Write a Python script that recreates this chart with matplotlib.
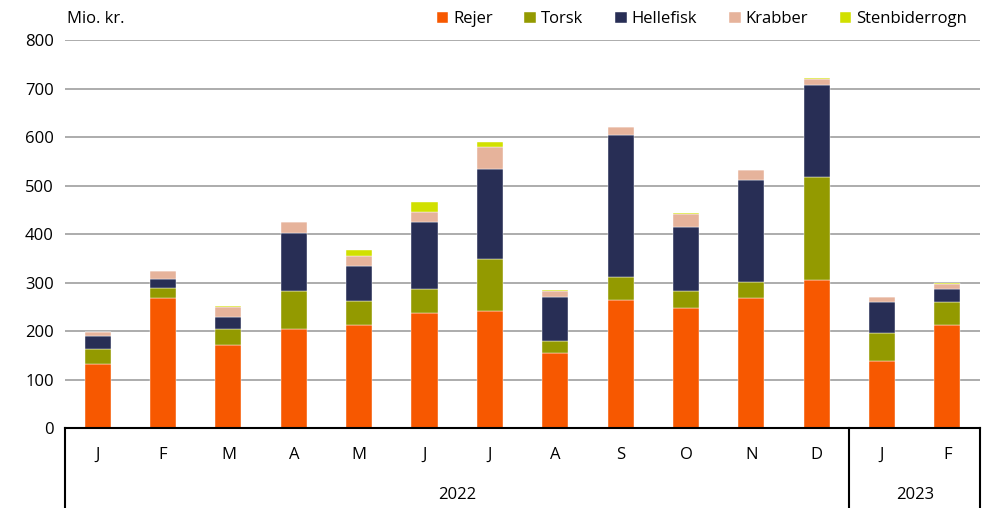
import numpy as np
import matplotlib.pyplot as plt
import matplotlib.transforms as mtransforms

plt.rcParams['font.family'] = ['Open Sans', 'DejaVu Sans']

# ---- Data (mio. kr.) ----
months = ['J', 'F', 'M', 'A', 'M', 'J', 'J', 'A', 'S', 'O', 'N', 'D', 'J', 'F']
years = ['2022', '2023']
rejer = [131, 269, 172, 205, 212, 238, 241, 155, 263, 248, 269, 306, 138, 212]
torsk = [32, 20, 32, 77, 50, 48, 108, 24, 48, 35, 33, 212, 58, 48]
hellefisk = [26, 19, 24, 121, 73, 138, 186, 91, 293, 132, 210, 190, 64, 26]
krabber = [10, 16, 21, 21, 19, 22, 44, 13, 16, 27, 20, 12, 11, 12]
stenbiderrogn = [0, 0, 2, 0, 13, 20, 10, 1, 0, 1, 0, 2, 0, 1]

series = [('Rejer', rejer, '#F75800'),
          ('Torsk', torsk, '#939A00'),
          ('Hellefisk', hellefisk, '#282E55'),
          ('Krabber', krabber, '#E6B39B'),
          ('Stenbiderrogn', stenbiderrogn, '#D1E000')]

# ---- Plotting ----
fig = plt.figure(figsize=(9.85, 5.08), dpi=100)
ax = fig.add_axes([0.066, 0.1575, 0.929, 0.7635])

x = np.arange(len(months))
bottom = np.zeros(len(months))
for name, vals, col in series:
    ax.bar(x, vals, 0.4, bottom=bottom, color=col, label=name, zorder=3,
           edgecolor='white', linewidth=0.3)
    bottom += np.array(vals)

ax.set_xlim(-0.5, len(months) - 0.5)
ax.set_ylim(0, 800)
ax.set_yticks(range(0, 801, 100))
ax.tick_params(axis='y', length=0, labelsize=12, pad=8)
ax.tick_params(axis='x', length=0, labelbottom=False)
ax.grid(axis='y', color='#A6A6A6', linewidth=1.3, zorder=0)
for s in ['left', 'right', 'top']:
    ax.spines[s].set_visible(False)
ax.spines['bottom'].set_linewidth(1.5)
ax.spines['bottom'].set_zorder(4)

# category axis box
trans = mtransforms.blended_transform_factory(ax.transData, ax.transAxes)
ybot = -0.22
for xv in [-0.5, 11.5, 13.5]:
    ax.plot([xv, xv], [0, ybot], color='black', lw=1.5, transform=trans, clip_on=False)
for i, m in enumerate(months):
    ax.text(i, -0.07, m, transform=trans, ha='center', va='center', fontsize=12)
ax.text(5.5, -0.173, years[0], transform=trans, ha='center', va='center', fontsize=12)
ax.text(12.5, -0.173, years[1], transform=trans, ha='center', va='center', fontsize=12)

fig.text(0.068, 0.962, 'Mio. kr.', ha='left', va='center', fontsize=12)
fig.legend(loc='center right', bbox_to_anchor=(0.982, 0.962), ncol=5, frameon=False,
           fontsize=12, handlelength=0.7, handleheight=0.7, columnspacing=1.9,
           handletextpad=0.3, borderpad=0, borderaxespad=0)

fig.savefig('out.png', dpi=100)
